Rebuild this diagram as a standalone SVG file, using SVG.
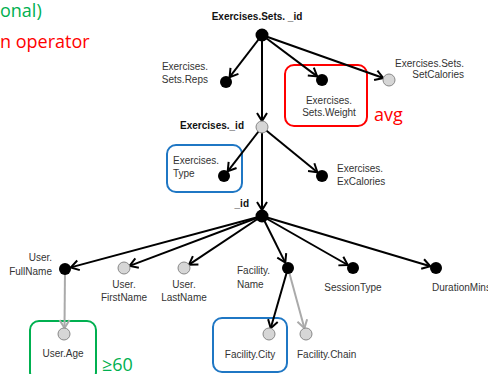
<svg xmlns="http://www.w3.org/2000/svg" width="488" height="374" viewBox="0 0 488 374">
  <defs>
    <style>
      .lbl { font-family: "Liberation Sans", Arial, sans-serif; font-size: 10px; fill: #333; }
      .bold { font-weight: bold; fill: #111; }
      .note { font-family: "Open Sans", "Noto Sans", sans-serif; font-size: 18px; }
      .edge { stroke: #000; stroke-width: 2; fill: none; marker-end: url(#arrow); }
      .edge.soft { stroke: #aaa; marker-end: url(#arrowGray); }
      .dark { fill: #000; }
      .light { fill: #d6d6d6; stroke: #888; stroke-width: 1; }
      .box { fill: none; stroke-width: 2; }
    </style>
    <marker id="arrow" markerUnits="userSpaceOnUse" markerWidth="14" markerHeight="14" viewBox="-10 -7 12 14" refX="0" refY="0" orient="auto">
      <path d="M-8,-5 L0,0 L-8,5" fill="none" stroke="#000" stroke-width="2"/>
    </marker>
    <marker id="arrowGray" markerUnits="userSpaceOnUse" markerWidth="14" markerHeight="14" viewBox="-10 -7 12 14" refX="0" refY="0" orient="auto">
      <path d="M-8,-5 L0,0 L-8,5" fill="none" stroke="#aaa" stroke-width="2"/>
    </marker>
  </defs>

  <rect width="488" height="374" fill="#fff"/>

  <!-- annotations -->
  <text class="note" x="0" y="17" fill="#00b050">onal)</text>
  <text class="note" x="0" y="48" fill="#ff0000">n operator</text>
  <text class="note" x="374" y="121" fill="#ff0000">avg</text>
  <text class="note" x="102" y="371" fill="#00b050">≥60</text>

  <!-- highlight boxes -->
  <rect class="box" x="285" y="65" width="82" height="61" rx="9" stroke="#ff0000"/>
  <rect class="box" x="167" y="145" width="75" height="47" rx="9" stroke="#1f77c4"/>
  <rect class="box" x="30" y="321" width="66" height="60" rx="9" stroke="#00b050"/>
  <rect class="box" x="213" y="318" width="74" height="54" rx="9" stroke="#1f77c4"/>

  <!-- connectors -->
  <g id="connectors">
    <line class="edge" x1="262" y1="35" x2="229.6" y2="77.2"/>
    <line class="edge" x1="262" y1="35" x2="317.2" y2="76.4"/>
    <line class="edge" x1="262" y1="35" x2="383.3" y2="78"/>
    <line class="edge" x1="262" y1="35" x2="262" y2="121"/>
    <line class="edge" x1="262" y1="127" x2="227.7" y2="171.3"/>
    <line class="edge" x1="262" y1="127" x2="317.4" y2="172.2"/>
    <line class="edge" x1="262" y1="127" x2="262" y2="210"/>
    <line class="edge" x1="262" y1="216" x2="70.8" y2="267.4"/>
    <line class="edge" x1="262" y1="216" x2="129.6" y2="265.9"/>
    <line class="edge" x1="262" y1="216" x2="189" y2="264.7"/>
    <line class="edge" x1="262" y1="216" x2="285.3" y2="262.6"/>
    <line class="edge" x1="262" y1="216" x2="347.8" y2="265"/>
    <line class="edge" x1="262" y1="216" x2="430.3" y2="266.3"/>
    <line class="edge soft" x1="65" y1="269" x2="64.5" y2="328"/>
    <line class="edge" x1="288" y1="268" x2="270.7" y2="328.2"/>
    <line class="edge soft" x1="288" y1="268" x2="304.4" y2="328.2"/>
  </g>

  <!-- nodes -->
  <g id="sets_id">
    <circle class="dark" cx="262" cy="35" r="6.5"/>
    <text class="lbl bold" x="257" y="20" text-anchor="middle" font-size="10.5">Exercises.Sets. _id</text>
  </g>
  <g id="sets_reps">
    <circle class="dark" cx="226" cy="82" r="6"/>
    <text class="lbl" x="208" y="70" text-anchor="end">Exercises.</text>
    <text class="lbl" x="208" y="83" text-anchor="end">Sets.Reps</text>
  </g>
  <g id="sets_weight">
    <circle class="dark" cx="322" cy="80" r="6"/>
    <text class="lbl" x="329" y="104" text-anchor="middle">Exercises.</text>
    <text class="lbl" x="329" y="116" text-anchor="middle">Sets.Weight</text>
  </g>
  <g id="sets_calories">
    <circle class="light" cx="389" cy="80" r="6"/>
    <text class="lbl" x="464" y="67" text-anchor="end">Exercises.Sets.</text>
    <text class="lbl" x="464" y="78" text-anchor="end">SetCalories</text>
  </g>
  <g id="exercises_id">
    <circle class="light" cx="262" cy="127" r="6"/>
    <text class="lbl bold" x="244" y="129" text-anchor="end" font-size="10.5">Exercises._id</text>
  </g>
  <g id="exercises_type">
    <circle class="dark" cx="224" cy="176" r="6"/>
    <text class="lbl" x="173" y="164">Exercises.</text>
    <text class="lbl" x="173" y="177">Type</text>
  </g>
  <g id="exercises_calories">
    <circle class="dark" cx="322" cy="176" r="6"/>
    <text class="lbl" x="337" y="172">Exercises.</text>
    <text class="lbl" x="337" y="185">ExCalories</text>
  </g>
  <g id="session_id">
    <circle class="dark" cx="262" cy="216" r="6.5"/>
    <text class="lbl bold" x="249" y="207" text-anchor="end" font-size="10.5">_id</text>
  </g>
  <g id="user_fullname">
    <circle class="dark" cx="65" cy="269" r="6"/>
    <text class="lbl" x="52" y="261" text-anchor="end">User.</text>
    <text class="lbl" x="52" y="275" text-anchor="end">FullName</text>
  </g>
  <g id="user_firstname">
    <circle class="light" cx="124" cy="268" r="6"/>
    <text class="lbl" x="124" y="288" text-anchor="middle">User.</text>
    <text class="lbl" x="124" y="301" text-anchor="middle">FirstName</text>
  </g>
  <g id="user_lastname">
    <circle class="light" cx="184" cy="268" r="6"/>
    <text class="lbl" x="184" y="288" text-anchor="middle">User.</text>
    <text class="lbl" x="184" y="301" text-anchor="middle">LastName</text>
  </g>
  <g id="facility_name">
    <circle class="dark" cx="288" cy="268" r="6"/>
    <text class="lbl" x="237" y="274">Facility.</text>
    <text class="lbl" x="237" y="288">Name</text>
  </g>
  <g id="session_type">
    <circle class="dark" cx="353" cy="268" r="6"/>
    <text class="lbl" x="353" y="291" text-anchor="middle">SessionType</text>
  </g>
  <g id="duration_mins">
    <circle class="dark" cx="436" cy="268" r="6"/>
    <text class="lbl" x="432" y="291">DurationMins</text>
  </g>
  <g id="user_age">
    <circle class="light" cx="64" cy="334" r="6"/>
    <text class="lbl" x="63" y="357" text-anchor="middle">User.Age</text>
  </g>
  <g id="facility_city">
    <circle class="light" cx="269" cy="334" r="6"/>
    <text class="lbl" x="250" y="358" text-anchor="middle">Facility.City</text>
  </g>
  <g id="facility_chain">
    <circle class="light" cx="306" cy="334" r="6"/>
    <text class="lbl" x="297" y="358">Facility.Chain</text>
  </g>
</svg>
